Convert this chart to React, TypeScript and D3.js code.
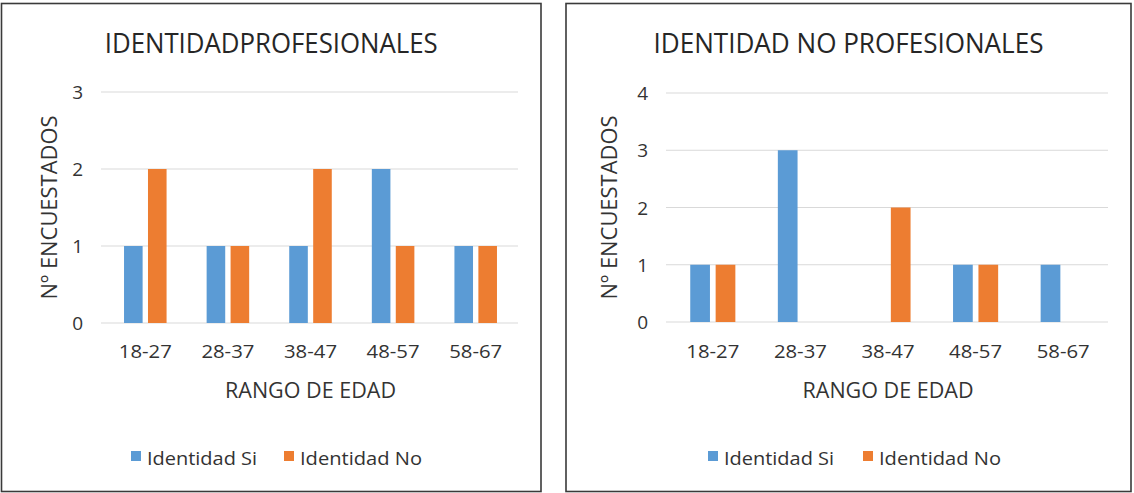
import React from "react";
import * as d3 from "d3";

// Age ranges shared by both charts
const categories = ["18-27", "28-37", "38-47", "48-57", "58-67"];

// Professionals
const profSi = [1, 1, 1, 2, 1];
const profNo = [2, 1, 2, 1, 1];
const profTicks = [0, 1, 2, 3];

// Non-professionals
const noProfSi = [1, 3, 0, 1, 1];
const noProfNo = [1, 0, 2, 1, 0];
const noProfTicks = [0, 1, 2, 3, 4];

const seriesNames = ["Identidad Si", "Identidad No"];
const seriesKeys = ["si", "no"];
const colors = ["#5B9BD5", "#ED7D31"];

const FONT = "'Open Sans', 'DejaVu Sans', sans-serif";

type PanelProps = {
  box: [number, number, number, number]; // x0, y0, x1, y1 of the frame
  title: string;
  titleWidth: number;
  si: number[];
  no: number[];
  ticks: number[];
  plotX: [number, number];
  plotY: [number, number]; // top, bottom
  yTitleX: number;
  legendX: [number, number]; // left edge of each legend entry
};

function Panel(p: PanelProps) {
  const [bx0, by0, bx1, by1] = p.box;
  const cx = (bx0 + bx1) / 2;
  const yMax = p.ticks[p.ticks.length - 1];

  const x0 = d3.scaleBand<string>().domain(categories).range(p.plotX).padding(0);
  const step = x0.bandwidth();
  const groupW = step * 0.515;
  const x1 = d3
    .scaleBand<string>()
    .domain(seriesKeys)
    .range([0, groupW])
    .paddingInner(0.224)
    .paddingOuter(0);
  const y = d3.scaleLinear().domain([0, yMax]).range([p.plotY[1], p.plotY[0]]);

  const series = [p.si, p.no];

  return (
    <g>
      <rect
        x={bx0}
        y={by0}
        width={bx1 - bx0}
        height={by1 - by0}
        fill="#fff"
        stroke="#3a3a3a"
        strokeWidth={1.6}
      />
      <text
        x={cx}
        y={53}
        textAnchor="middle"
        fontFamily={FONT}
        fontSize={27}
        fill="#262626"
        textLength={p.titleWidth}
        lengthAdjust="spacingAndGlyphs"
      >
        {p.title}
      </text>

      {/* horizontal gridlines and y tick labels */}
      {p.ticks.map((t) => (
        <g key={t}>
          <line
            x1={p.plotX[0] - 3}
            x2={p.plotX[1] + 1}
            y1={y(t)}
            y2={y(t)}
            stroke="#D9D9D9"
            strokeWidth={1.2}
          />
          <text
            x={p.plotX[0] - 21}
            y={y(t) + 7}
            textAnchor="end"
            fontFamily={FONT}
            fontSize={19}
            fill="#333"
          >
            {t}
          </text>
        </g>
      ))}

      {/* bars */}
      {categories.map((c, i) => {
        const gx = (x0(c) as number) + (step - groupW) / 2;
        return series.map((vals, s) =>
          vals[i] > 0 ? (
            <rect
              key={c + s}
              x={gx + (x1(seriesKeys[s]) as number)}
              y={y(vals[i])}
              width={x1.bandwidth()}
              height={y(0) - y(vals[i])}
              fill={colors[s]}
            />
          ) : null
        );
      })}

      {/* category labels */}
      {categories.map((c) => (
        <text
          key={c}
          x={(x0(c) as number) + step / 2}
          y={358}
          textAnchor="middle"
          fontFamily={FONT}
          fontSize={19}
          fill="#333"
          textLength={53}
          lengthAdjust="spacingAndGlyphs"
        >
          {c}
        </text>
      ))}

      <text
        x={(p.plotX[0] + p.plotX[1]) / 2}
        y={398}
        textAnchor="middle"
        fontFamily={FONT}
        fontSize={22}
        fill="#333"
        textLength={171}
        lengthAdjust="spacingAndGlyphs"
      >
        RANGO DE EDAD
      </text>

      <text
        transform={`translate(${p.yTitleX},${(p.plotY[0] + p.plotY[1]) / 2}) rotate(-90)`}
        textAnchor="middle"
        dy={8}
        fontFamily={FONT}
        fontSize={22}
        fill="#333"
        textLength={184}
        lengthAdjust="spacingAndGlyphs"
      >
        Nº ENCUESTADOS
      </text>

      {/* legend */}
      {seriesNames.map((n, s) => (
        <g key={n}>
          <rect x={p.legendX[s]} y={451} width={10} height={10} fill={colors[s]} />
          <text
            x={p.legendX[s] + 16}
            y={465}
            fontFamily={FONT}
            fontSize={18}
            fill="#333"
            textLength={s === 0 ? 110 : 122}
            lengthAdjust="spacingAndGlyphs"
          >
            {n}
          </text>
        </g>
      ))}
    </g>
  );
}

export default function App() {
  return (
    <svg
      width={1134}
      height={493}
      style={{ position: "absolute", left: 0, top: 0, background: "#fff" }}
    >
      <Panel
        box={[1.5, 3.5, 541, 491.5]}
        title="IDENTIDADPROFESIONALES"
        titleWidth={333}
        si={profSi}
        no={profNo}
        ticks={profTicks}
        plotX={[104, 517]}
        plotY={[92, 323]}
        yTitleX={49}
        legendX={[131, 284]}
      />
      <Panel
        box={[566, 3.5, 1131, 491.5]}
        title="IDENTIDAD NO PROFESIONALES"
        titleWidth={390}
        si={noProfSi}
        no={noProfNo}
        ticks={noProfTicks}
        plotX={[669, 1107]}
        plotY={[93, 322]}
        yTitleX={609}
        legendX={[708, 863]}
      />
    </svg>
  );
}
